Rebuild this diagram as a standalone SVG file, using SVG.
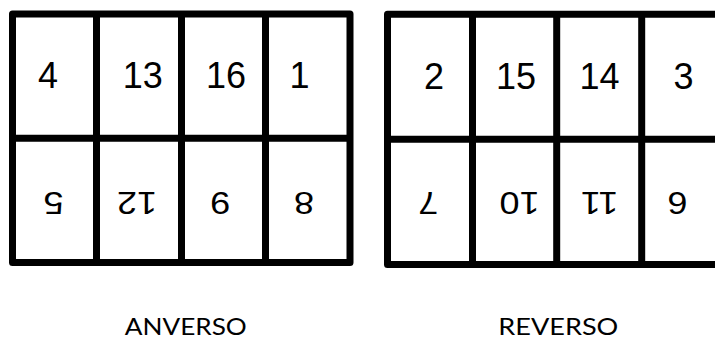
<svg xmlns="http://www.w3.org/2000/svg" width="715" height="339" viewBox="0 0 715 339">
<style>
.grid{fill:none;stroke:#000;stroke-width:7;stroke-linejoin:round}
.n{font-family:"Liberation Sans",Arial,sans-serif;font-size:36px;fill:#000}
.m{text-anchor:middle}
.lbl{font-family:Lato,"Open Sans",sans-serif;font-size:23px;fill:#000;text-anchor:middle}
</style>
<rect width="715" height="339" fill="#fff"/>
<g id="anverso">
  <path class="grid" d="M12.5,14 H350 V262.5 H12.5 Z M96.5,14 V262.5 M181.5,14 V262.5 M265.5,14 V262.5 M12.5,138.3 H350"/>
  <g id="a-4"><text class="n" x="38" y="88">4</text></g>
  <g id="a-13"><text class="n" x="122.8" y="88">13</text></g>
  <g id="a-16"><text class="n" x="206" y="88">16</text></g>
  <g id="a-1"><text class="n" x="289.4" y="88">1</text></g>
  <g id="a-5"><text class="n m" transform="translate(53.6,192.3) scale(-1,-0.85)">5</text></g>
  <g id="a-12"><text class="n m" transform="translate(137,192.3) scale(-1,-0.85)">12</text></g>
  <g id="a-9"><text class="n m" transform="translate(220.3,192.3) scale(-1,-0.85)">9</text></g>
  <g id="a-8"><text class="n m" transform="translate(304,192.3) scale(-1,-0.85)">8</text></g>
  <text class="lbl" x="185.8" y="335" textLength="122" lengthAdjust="spacingAndGlyphs">ANVERSO</text>
</g>
<g id="reverso">
  <path class="grid" d="M730,14.3 H387.5 V264.5 H730 M472.5,14.3 V264.5 M556.7,14.3 V264.5 M641.7,14.3 V264.5 M387.5,139.2 H730"/>
  <g id="r-2"><text class="n" x="424" y="89">2</text></g>
  <g id="r-15"><text class="n" x="496" y="89">15</text></g>
  <g id="r-14"><text class="n" x="579.4" y="89">14</text></g>
  <g id="r-3"><text class="n" x="673.5" y="89">3</text></g>
  <g id="r-7"><text class="n m" transform="translate(428.3,192) scale(-1,-0.85)">7</text></g>
  <g id="r-10"><text class="n m" transform="translate(519.5,192) scale(-1,-0.85)">10</text></g>
  <g id="r-11"><text class="n m" transform="translate(599.5,192) scale(-1,-0.85)">11</text></g>
  <g id="r-6"><text class="n m" transform="translate(677.5,192) scale(-1,-0.85)">6</text></g>
  <text class="lbl" x="558.3" y="335" textLength="120" lengthAdjust="spacingAndGlyphs">REVERSO</text>
</g>
</svg>
